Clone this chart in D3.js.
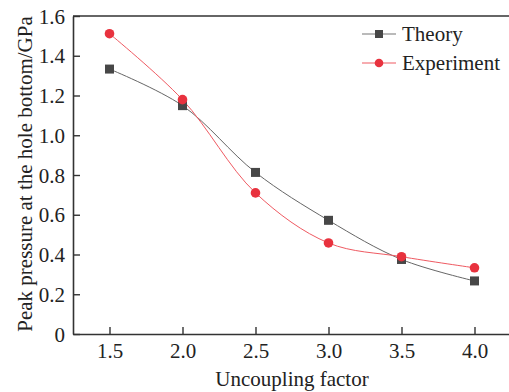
<!DOCTYPE html>
<html><head><meta charset="utf-8">
<script src="https://cdn.jsdelivr.net/npm/d3@7"></script>
<style>body{margin:0;background:#fff}svg{display:block}text{font-family:"Liberation Serif","Times New Roman",serif;fill:#222}</style>
</head><body>
<svg id="c" width="509" height="392"></svg>
<script>
const factors = [1.5, 2.0, 2.5, 3.0, 3.5, 4.0];
const theory = [1.333, 1.149, 0.813, 0.572, 0.375, 0.267];
const experiment = [1.511, 1.179, 0.710, 0.458, 0.389, 0.333];
const xTicks = [1.5, 2.0, 2.5, 3.0, 3.5, 4.0];
const yTicks = [0, 0.2, 0.4, 0.6, 0.8, 1.0, 1.2, 1.4, 1.6];
const seriesNames = ["Theory", "Experiment"];

const svg = d3.select("#c");
const L = 73, T = 16, B = 334, R = 511;
const x = d3.scaleLinear().domain([1.25, 4.25]).range([L, R]);
const y = d3.scaleLinear().domain([0, 1.6]).range([B, T]);
const FS = 21;

const fmtY = d => d === 0 ? "0" : d.toFixed(1);
const xAxis = d3.axisBottom(x).tickValues(xTicks).tickSizeInner(-7).tickSizeOuter(0).tickPadding(9).tickFormat(d => d.toFixed(1));
const yAxis = d3.axisLeft(y).tickValues(yTicks).tickSizeInner(-7).tickSizeOuter(0).tickPadding(8).tickFormat(fmtY);

const gx = svg.append("g").attr("transform", `translate(0,${B})`).call(xAxis);
const gy = svg.append("g").attr("transform", `translate(${L},0)`).call(yAxis);
[gx, gy].forEach(g => {
  g.select(".domain").attr("stroke", "#333").attr("stroke-width", 1.6);
  g.selectAll(".tick line").attr("stroke", "#333").attr("stroke-width", 1.4);
  g.selectAll(".tick text").attr("font-size", FS).attr("fill", "#222").attr("font-family", '"Liberation Serif",serif');
});
gy.selectAll(".tick text").attr("dy", "0.34em");
// top border
svg.append("line").attr("x1", L).attr("x2", R).attr("y1", y(1.6)).attr("y2", y(1.6)).attr("stroke", "#333").attr("stroke-width", 1.6);

const line = d3.line().x((d, i) => x(factors[i])).y(d => y(d)).curve(d3.curveCatmullRom.alpha(0.5));

svg.append("path").datum(theory).attr("d", line).attr("fill", "none").attr("stroke", "#666").attr("stroke-width", 1);
svg.append("path").datum(experiment).attr("d", line).attr("fill", "none").attr("stroke", "#ef5a62").attr("stroke-width", 1);

svg.selectAll(".sq").data(theory).enter().append("rect")
  .attr("x", (d, i) => x(factors[i]) - 4.5).attr("y", d => y(d) - 4.5)
  .attr("width", 9).attr("height", 9).attr("fill", "#474747");
svg.selectAll(".ci").data(experiment).enter().append("circle")
  .attr("cx", (d, i) => x(factors[i])).attr("cy", d => y(d)).attr("r", 4.8).attr("fill", "#e8323e");

// legend
const lg = svg.append("g");
const ly = [34, 63];
lg.append("line").attr("x1", 362).attr("x2", 396).attr("y1", ly[0]).attr("y2", ly[0]).attr("stroke", "#777").attr("stroke-width", 1.2);
lg.append("rect").attr("x", 379 - 4).attr("y", ly[0] - 4).attr("width", 8).attr("height", 8).attr("fill", "#474747");
lg.append("line").attr("x1", 362).attr("x2", 396).attr("y1", ly[1]).attr("y2", ly[1]).attr("stroke", "#ef5a62").attr("stroke-width", 1.2);
lg.append("circle").attr("cx", 379).attr("cy", ly[1]).attr("r", 4.3).attr("fill", "#e8323e");
seriesNames.forEach((n, i) => {
  lg.append("text").attr("x", 402).attr("y", ly[i]).attr("dy", "0.33em").attr("font-size", FS).text(n);
});

svg.append("text").attr("x", 292).attr("y", 386).attr("text-anchor", "middle").attr("font-size", FS).text("Uncoupling factor");
svg.append("text").attr("transform", `translate(32,${174}) rotate(-90)`).attr("text-anchor", "middle").attr("font-size", FS).text("Peak pressure at the hole bottom/GPa");
</script>
</body></html>
